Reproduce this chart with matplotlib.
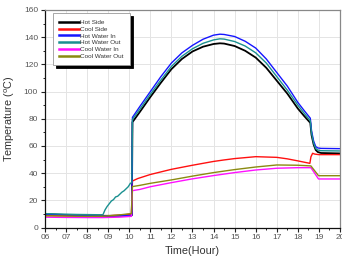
import matplotlib
matplotlib.use("Agg")
import matplotlib.pyplot as plt
from matplotlib.ticker import MultipleLocator

plt.rcParams['font.family'] = ['Liberation Sans', 'DejaVu Sans']

# ---- data ----
t_hot = [6.0, 6.5, 7.0, 7.5, 8.0, 8.5, 9.0, 9.5, 10.0, 10.12, 10.15, 10.5, 11.0, 11.5, 12.0,
         12.5, 13.0, 13.5, 14.0, 14.3, 14.5, 15.0, 15.5, 16.0, 16.5, 17.0, 17.5, 18.0,
         18.3, 18.59, 18.65, 18.75, 18.85, 18.95, 19.1, 20.0]
hot_side = [9.8, 9.5, 9.2, 9.0, 8.8, 8.6, 8.6, 8.7, 8.8, 9.0, 77.5, 85.0, 96.0, 106.5, 116.5,
            124.0, 129.5, 133.0, 135.0, 135.5, 135.3, 133.5, 130.0, 125.0, 117.5, 108.0, 98.5, 87.5,
            82.0, 77.0, 68.0, 61.0, 57.0, 55.5, 54.8, 54.5]
hot_water_in = [9.8, 9.5, 9.2, 9.0, 8.8, 8.6, 8.6, 8.7, 8.8, 9.0, 81.0, 89.0, 100.0, 111.0, 121.0,
                128.5, 134.0, 138.5, 141.5, 142.2, 142.0, 140.5, 137.0, 132.0, 124.0, 114.0, 104.0, 92.0,
                86.0, 80.4, 71.0, 63.5, 59.5, 58.5, 58.2, 58.0]

t_hwo = [6.0, 6.5, 7.0, 7.5, 8.0, 8.5, 8.75, 8.85, 8.95, 9.05, 9.15, 9.25, 9.35, 9.45, 9.55,
         9.65, 9.75, 9.85, 9.95, 10.05, 10.12, 10.15, 10.5, 11.0, 11.5, 12.0, 12.5, 13.0, 13.5,
         14.0, 14.3, 14.5, 15.0, 15.5, 16.0, 16.5, 17.0, 17.5, 18.0, 18.3, 18.59, 18.65, 18.75,
         18.85, 18.95, 19.1, 20.0]
hot_water_out = [10.2, 10.0, 9.8, 9.6, 9.5, 9.4, 9.4, 13.0, 15.5, 17.5, 19.5, 20.5, 22.5, 23.0, 24.5,
                 26.0, 27.0, 28.5, 30.0, 32.5, 33.0, 79.5, 87.0, 98.0, 108.5, 118.5, 126.0, 131.5, 135.5,
                 138.0, 138.8, 138.6, 136.8, 133.5, 128.5, 121.0, 111.0, 101.0, 90.0, 84.0, 78.5, 69.5, 62.0,
                 58.0, 57.0, 56.5, 56.3]

t_cs = [6.0, 7.0, 8.0, 8.75, 9.5, 10.1, 10.15, 10.4, 11.0, 12.0, 13.0, 14.0, 14.5, 15.0, 16.0,
        17.0, 17.5, 18.0, 18.57, 18.62, 18.7, 18.8, 19.0, 20.0]
cool_side = [8.8, 8.6, 8.4, 8.4, 9.0, 9.8, 34.2, 36.0, 39.0, 42.8, 45.8, 48.6, 49.7, 50.7, 52.1,
             51.6, 50.5, 49.0, 47.2, 52.0, 54.6, 54.0, 53.6, 53.6]

t_cw = [6.0, 7.0, 8.0, 8.75, 9.5, 10.1, 10.15, 10.5, 11.0, 12.0, 13.0, 14.0, 15.0, 16.0, 17.0,
        18.0, 18.62, 18.98, 19.1, 20.0]
cool_water_in = [7.6, 7.4, 7.3, 7.3, 7.6, 8.2, 27.1, 28.0, 30.0, 33.0, 35.8, 38.2, 40.4, 42.3, 43.6,
                 44.0, 44.0, 35.7, 35.7, 35.7]
cool_water_out = [8.6, 8.4, 8.2, 8.3, 9.2, 10.3, 30.1, 31.0, 32.5, 35.0, 37.8, 40.4, 42.6, 44.5, 46.0,
                  45.8, 45.3, 38.1, 38.1, 38.1]

x_ticks = [6, 7, 8, 9, 10, 11, 12, 13, 14, 15, 16, 17, 18, 19, 20]
x_tick_labels = ["06", "07", "08", "09", "10", "11", "12", "13", "14", "15", "16", "17", "18", "19", "20"]

# ---- figure ----
fig = plt.figure(figsize=(3.42, 2.59), dpi=100)
ax = fig.add_axes([45 / 342, 1 - 227.5 / 259, 295 / 342, 217.5 / 259])

ax.plot(t_hot, hot_side, color='#000000', lw=1.3, label='Hot Side')
ax.plot(t_cs, cool_side, color='#ff1010', lw=1.0, label='Cool Side')
ax.plot(t_hot, hot_water_in, color='#1515ff', lw=1.0, label='Hot Water In')
ax.plot(t_hwo, hot_water_out, color='#1a9090', lw=1.0, label='Hot Water Out')
ax.plot(t_cw, cool_water_in, color='#ff10ff', lw=1.0, label='Cool Water In')
ax.plot(t_cw, cool_water_out, color='#8a8a10', lw=1.0, label='Cool Water Out')

ax.set_xlim(6, 20)
ax.set_ylim(0, 160)
ax.set_xticks(x_ticks)
ax.set_xticklabels(x_tick_labels)
ax.xaxis.set_minor_locator(MultipleLocator(0.5))
ax.yaxis.set_major_locator(MultipleLocator(20))
ax.yaxis.set_minor_locator(MultipleLocator(10))
ax.tick_params(which='major', direction='out', length=3, width=0.8, labelsize=6, colors='#222222',
               labelcolor='#555555', pad=2)
ax.tick_params(which='minor', direction='out', length=1.6, width=0.7, colors='#222222')
ax.grid(True, which='major', color='#e4e4e4', lw=0.7)
ax.set_axisbelow(True)

for s in ['left', 'bottom']:
    ax.spines[s].set_color('#111111')
    ax.spines[s].set_linewidth(0.9)
for s in ['top', 'right']:
    ax.spines[s].set_color('#888888')
    ax.spines[s].set_linewidth(0.9)

ax.set_xlabel('Time(Hour)', fontsize=7.8, color='#333333', labelpad=3)
ax.set_ylabel('Temperature ($\\mathregular{^{o}}$C)', fontsize=7.8, color='#333333', labelpad=5)

leg = ax.legend(loc='upper left', bbox_to_anchor=(0.027, 0.985), fontsize=4.6, frameon=True,
                fancybox=False, shadow={'color': 'black', 'alpha': 1.0, 'ox': 2.2, 'oy': -2.2},
                handlelength=3.0, handletextpad=0.25, labelspacing=0.2, borderpad=1.0,
                borderaxespad=0)
leg.get_frame().set_edgecolor('#999999')
leg.get_frame().set_linewidth(0.6)
for line in leg.get_lines():
    line.set_linewidth(1.8)
for txt in leg.get_texts():
    txt.set_color('#333333')

fig.savefig('out.png', dpi=100)
